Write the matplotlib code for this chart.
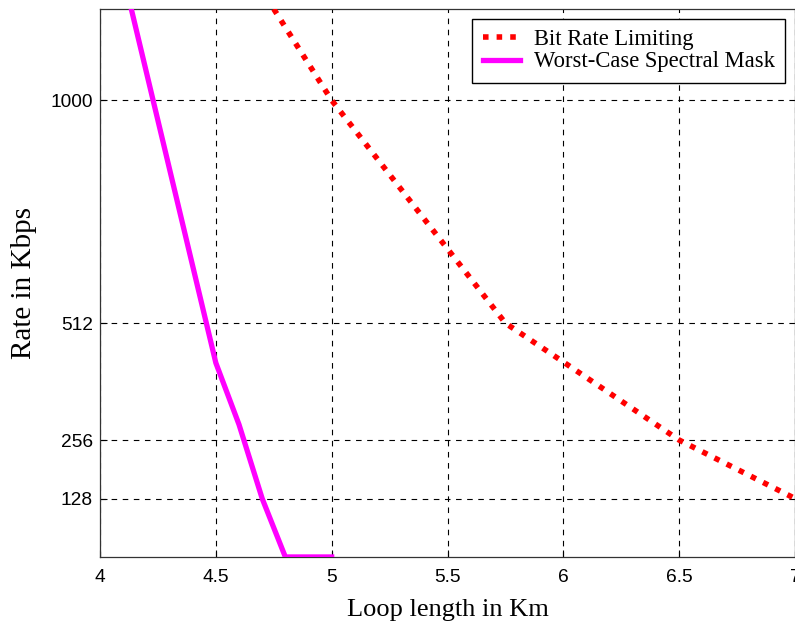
import matplotlib
matplotlib.use("Agg")
import matplotlib.pyplot as plt

# loop length (km) vs achievable rate (kbps)
bitrate_km = [4.75, 5.0, 5.75, 6.0, 6.5, 7.0]
bitrate_kbps = [1200, 1000, 512, 427, 256, 128]

mask_km = [4.135, 4.5, 4.6, 4.7, 4.8, 5.0]
mask_kbps = [1200, 425, 290, 128, 0, 0]

x_ticks = [4, 4.5, 5, 5.5, 6, 6.5, 7]
x_ticklabels = ["4", "4.5", "5", "5.5", "6", "6.5", "7"]
y_ticks = [128, 256, 512, 1000]

sans = ["Liberation Sans", "DejaVu Sans"]
serif = ["Liberation Serif", "DejaVu Serif"]

fig = plt.figure(figsize=(7.95, 6.23), dpi=100)
ax = fig.add_axes([0.1258, 0.106, 0.8742, 0.8796])

ax.plot(bitrate_km, bitrate_kbps, color="red", lw=4.0, dashes=(1, 1.45),
        dash_capstyle="butt", label="Bit Rate Limiting", zorder=3)
ax.plot(mask_km, mask_kbps, color="magenta", lw=3.8,
        label="Worst-Case Spectral Mask", zorder=3)

ax.set_xlim(4, 7)
ax.set_ylim(0, 1200)
ax.set_xticks(x_ticks)
ax.set_xticklabels(x_ticklabels)
ax.set_yticks(y_ticks)
ax.tick_params(direction="in", length=5, width=0.8, labelsize=13.8)
ax.tick_params(axis="x", pad=9)
ax.tick_params(axis="y", pad=5)
for lab in ax.get_xticklabels() + ax.get_yticklabels():
    lab.set_family(sans)

ax.grid(True, color="black", lw=0.8, dashes=(5, 5))
ax.set_axisbelow(True)
for sp in ax.spines.values():
    sp.set_linewidth(0.9)
    sp.set_color("#333333")

ax.set_xlabel("Loop length in Km", family=serif, fontsize=19, labelpad=9)
ax.set_ylabel("Rate in Kbps", family=serif, fontsize=21, labelpad=10)

leg = ax.legend(loc="upper right", bbox_to_anchor=(1.0, 1.0),
                prop={"family": serif, "size": 16.3}, frameon=True,
                fancybox=False, framealpha=1, edgecolor="black",
                handlelength=1.65, borderpad=0.45, labelspacing=0.05,
                handletextpad=0.6, borderaxespad=0.45)
leg.get_frame().set_linewidth(1.0)

fig.savefig("out.png", dpi=100)
